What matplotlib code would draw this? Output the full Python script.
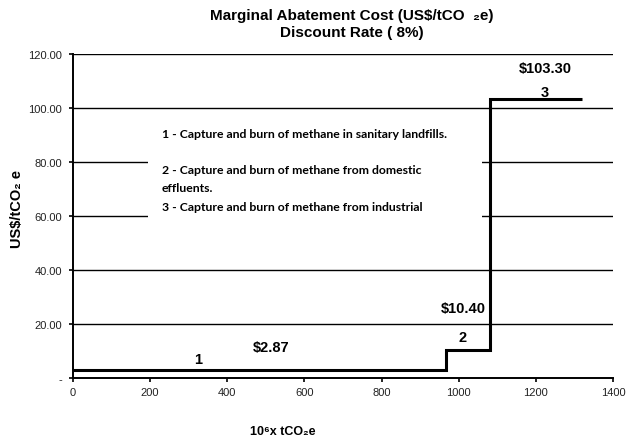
import matplotlib
matplotlib.use("Agg")
import matplotlib.pyplot as plt
from matplotlib.patches import Rectangle

plt.rcParams['font.family'] = ['Liberation Sans', 'DejaVu Sans']

# Abatement options: cumulative potential edges (10^6 tCO2e) and cost (US$/tCO2e)
edges = [0, 967, 1081, 1320]
costs = [2.87, 10.40, 103.30]
option_ids = ["1", "2", "3"]
cost_labels = ["$2.87", "$10.40", "$103.30"]
legend_lines = [
    "1 - Capture and burn of methane in sanitary landfills.",
    "2 - Capture and burn of methane from domestic",
    "effluents.",
    "3 - Capture and burn of methane from industrial",
]
yticks = [0, 20, 40, 60, 80, 100, 120]
xticks = [0, 200, 400, 600, 800, 1000, 1200, 1400]

W, H = 627, 439
fig = plt.figure(figsize=(W / 100, H / 100), dpi=100)
L, R, T, B = 73, 613, 55, 379
ax = fig.add_axes([L / W, 1 - B / H, (R - L) / W, (B - T) / H])
ax.set_xlim(0, 1400)
ax.set_ylim(0, 120)

for s in ["top", "right"]:
    ax.spines[s].set_visible(False)
for s in ["left", "bottom"]:
    ax.spines[s].set_linewidth(1.4)
    ax.spines[s].set_color("black")

ax.set_yticks(yticks)
ax.set_yticklabels(["-" if v == 0 else f"{v:.2f}" for v in yticks])
ax.set_xticks(xticks)
ax.set_xticklabels([str(v) for v in xticks])
ax.tick_params(axis="both", direction="out", length=3, width=1.2,
               labelsize=8, colors="black", labelcolor="#222222")
ax.tick_params(axis="y", pad=4.7)
ax.tick_params(axis="x", pad=3.8)

# horizontal gridlines
for v in yticks[1:]:
    ax.axhline(v, color="black", lw=1.0, zorder=1)

# legend box hides the gridlines behind the text
ax.add_patch(Rectangle((194, 55), 1060 - 194, 41, facecolor="white",
                       edgecolor="none", zorder=2))
leg_y = [90.4, 77.4, 70.7, 63.7]
for txt, yy in zip(legend_lines, leg_y):
    ax.text(231, yy, txt, fontsize=8.8, fontweight="bold", family="Lato",
            va="center", ha="left", zorder=3)

# cost curve
ax.stairs(costs, edges, baseline=None, color="black", lw=2.2, zorder=4)

# option numbers and cost labels
id_pos = [(324, 7), (1011, 15), (1224, 106)]
lab_pos = [(513, 11.5), (1011, 26), (1224, 115)]
for t, (x, y) in zip(option_ids, id_pos):
    ax.text(x, y, t, fontsize=10.5, fontweight="bold", ha="center", va="center", zorder=5)
for t, (x, y) in zip(cost_labels, lab_pos):
    ax.text(x, y, t, fontsize=10.5, fontweight="bold", ha="center", va="center", zorder=5)

fig.text(352 / W, 1 - 16 / H, "Marginal Abatement Cost (US$/tCO  ₂e)",
         fontsize=11, fontweight="bold", ha="center", va="center")
fig.text(352 / W, 1 - 33 / H, "Discount Rate ( 8%)",
         fontsize=11, fontweight="bold", ha="center", va="center")
fig.text(17 / W, 1 - 209 / H, "US$/tCO₂ e", rotation=90, fontsize=10.5,
         fontweight="bold", ha="center", va="center")
fig.text(283 / W, 1 - 432 / H, "10⁶x tCO₂e", fontsize=9,
         fontweight="bold", ha="center", va="center")

fig.savefig("out.png", dpi=100)
